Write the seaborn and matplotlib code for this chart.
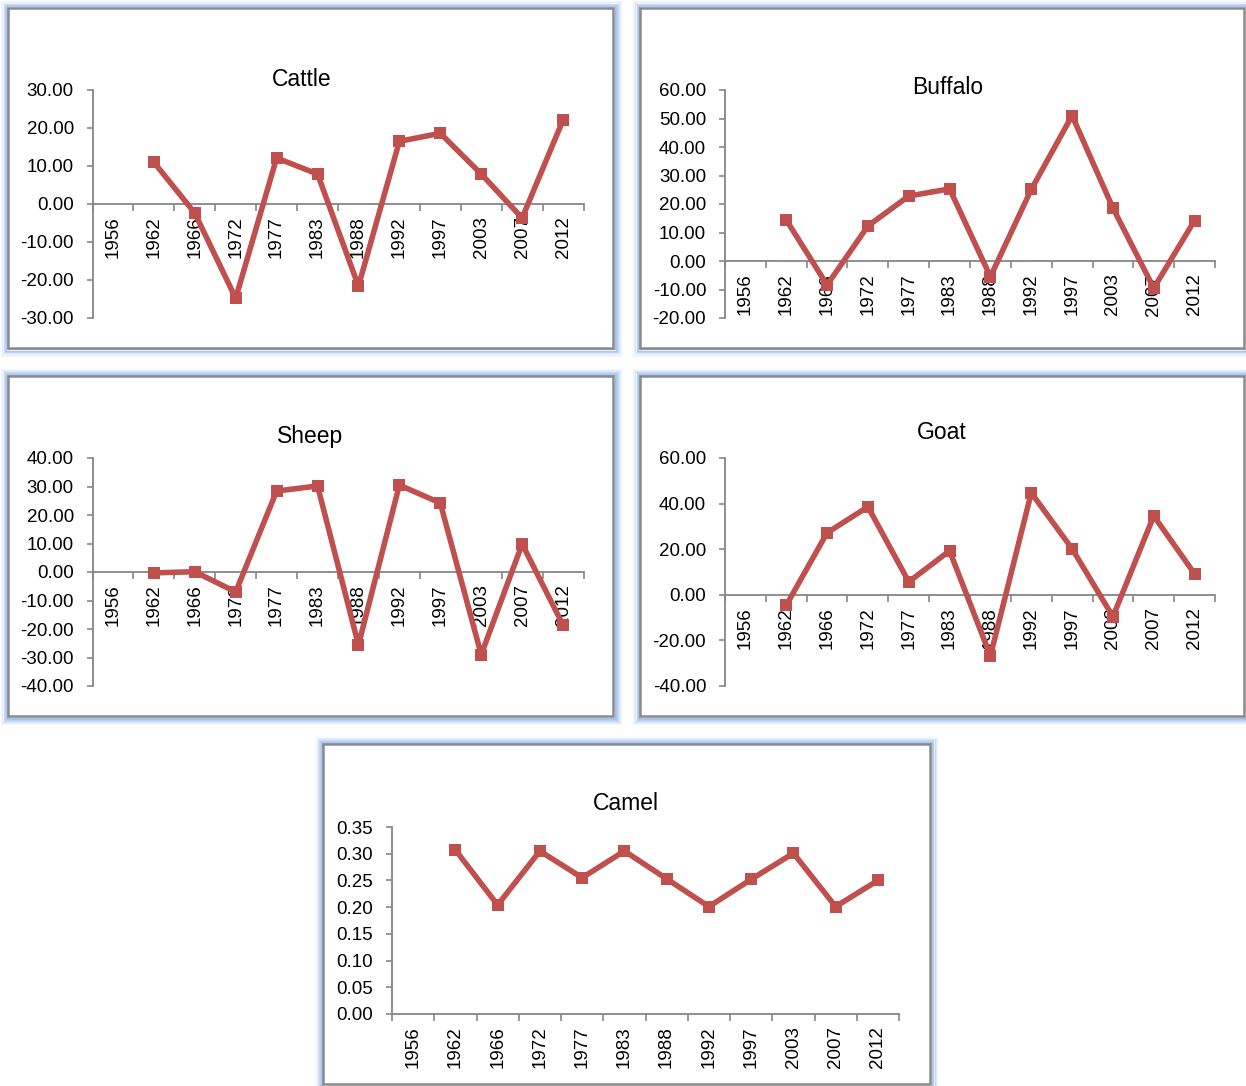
import numpy as np
import pandas as pd
import matplotlib
matplotlib.use("Agg")
import matplotlib.pyplot as plt
from matplotlib.patches import Rectangle
from matplotlib.ticker import FixedLocator, FormatStrFormatter
import seaborn as sns

# ---- data -------------------------------------------------------------
years = ["1956", "1962", "1966", "1972", "1977", "1983", "1988",
         "1992", "1997", "2003", "2007", "2012"]

cattle = [np.nan, 11.0, -2.4, -24.8, 12.1, 7.9, -21.6, 16.5, 18.6, 7.9, -3.7, 22.1]
buffalo = [np.nan, 14.4, -8.4, 12.3, 22.8, 25.3, -5.5, 25.1, 51.0, 18.6, -9.5, 14.2]
sheep = [np.nan, -0.3, 0.1, -7.0, 28.4, 30.2, -25.6, 30.5, 24.2, -29.0, 9.8, -18.6]
goat = [np.nan, -4.6, 27.2, 38.6, 5.7, 19.3, -26.8, 44.7, 20.2, -9.6, 34.6, 9.2]
camel = [np.nan, 0.307, 0.204, 0.305, 0.255, 0.305, 0.253, 0.201, 0.252, 0.301, 0.201, 0.250]

titles = ["Cattle", "Buffalo", "Sheep", "Goat", "Camel"]
series = [cattle, buffalo, sheep, goat, camel]
y_ranges = [(-30, 30, 10), (-20, 60, 10), (-40, 40, 10), (-40, 60, 20), (0, 0.35, 0.05)]

# ---- layout (pixels, origin top-left) ----------------------------------
W, H = 1246, 1086
frames = [(8, 8, 613, 348), (640, 8, 1244, 348), (8, 376, 613, 716),
          (640, 376, 1244, 716), (323, 744, 930, 1084)]
plot_boxes = [(92.5, 90, 583.5, 318), (725, 90, 1215, 318), (92.5, 458, 583.5, 686),
              (725, 458, 1215, 686), (392, 827, 899, 1014)]
title_pos = [(302, 80), (948, 88), (310, 437), (942, 433), (626, 804)]

sns.set_style("white")
plt.rcParams["font.family"] = ["Liberation Sans Narrow", "Liberation Sans", "DejaVu Sans"]

LINE = "#C0504D"
AXIS = "#868686"

fig = plt.figure(figsize=(W / 100, H / 100), dpi=100)
fig.patch.set_facecolor("white")


def fx(px):
    return px / W


def fy(py):
    return 1 - py / H


# panel frames with a soft blue glow
for (x0, y0, x1, y1) in frames:
    glow = ["#9DBFEC", "#A9C7EF", "#B7D0F2", "#C6DAF5", "#D6E4F8", "#E6EFFB", "#F3F7FD"]
    for i, c in enumerate(glow):
        d = 1.5 + i
        fig.patches.append(Rectangle((fx(x0 - d), fy(y1 + d)), fx(x1 - x0 + 2 * d),
                                     (y1 - y0 + 2 * d) / H, transform=fig.transFigure,
                                     fill=False, edgecolor=c, linewidth=0.9, zorder=-3))
    fig.patches.append(Rectangle((fx(x0), fy(y1)), fx(x1 - x0), (y1 - y0) / H,
                                 transform=fig.transFigure, facecolor="white",
                                 edgecolor="#8A8A8A", linewidth=1.8, zorder=-2))

pos = np.arange(len(years))
for title, vals, (lo, hi, step), (l, t, r, b), (tx, ty) in zip(
        titles, series, y_ranges, plot_boxes, title_pos):
    ax = fig.add_axes([fx(l), fy(b), fx(r - l), (b - t) / H])
    ax.set_facecolor("none")
    df = pd.DataFrame({"pos": pos, "value": vals})
    sns.lineplot(data=df, x="pos", y="value", ax=ax, color=LINE, linewidth=4.0,
                 marker="s", markersize=9, markeredgewidth=0, estimator=None,
                 errorbar=None, clip_on=False)
    ax.set_xlim(-0.5, len(years) - 0.5)
    ax.set_ylim(lo, hi)
    ax.set_xlabel("")
    ax.set_ylabel("")

    for s in ("top", "right"):
        ax.spines[s].set_visible(False)
    ax.spines["left"].set_color(AXIS)
    ax.spines["left"].set_linewidth(1.3)
    ax.spines["bottom"].set_color(AXIS)
    ax.spines["bottom"].set_linewidth(1.3)
    ax.spines["bottom"].set_position(("data", 0))
    ax.spines["bottom"].set_zorder(1)

    yt = np.arange(lo, hi + step / 2, step)
    ax.set_yticks(yt)
    ax.yaxis.set_major_formatter(FormatStrFormatter("%.2f"))
    ax.tick_params(axis="y", direction="out", length=4, width=1.2, color=AXIS,
                   pad=9.5, labelsize=13.5, labelcolor="black", left=True)

    ax.set_xticks(pos)
    ax.set_xticklabels(years, rotation=90)
    ax.xaxis.set_minor_locator(FixedLocator(np.arange(-0.5, len(years), 1)))
    ax.tick_params(axis="x", which="major", length=0, pad=9, labelsize=13.5,
                   labelcolor="black")
    ax.tick_params(axis="x", which="minor", direction="out", length=5, width=1.2,
                   color=AXIS, bottom=True)
    for lab in ax.get_xticklabels():
        lab.set_verticalalignment("top")

    fig.text(fx(tx), fy(ty), title, ha="center", va="center", fontsize=16.5,
             color="black")

fig.savefig("out.png", dpi=100)
